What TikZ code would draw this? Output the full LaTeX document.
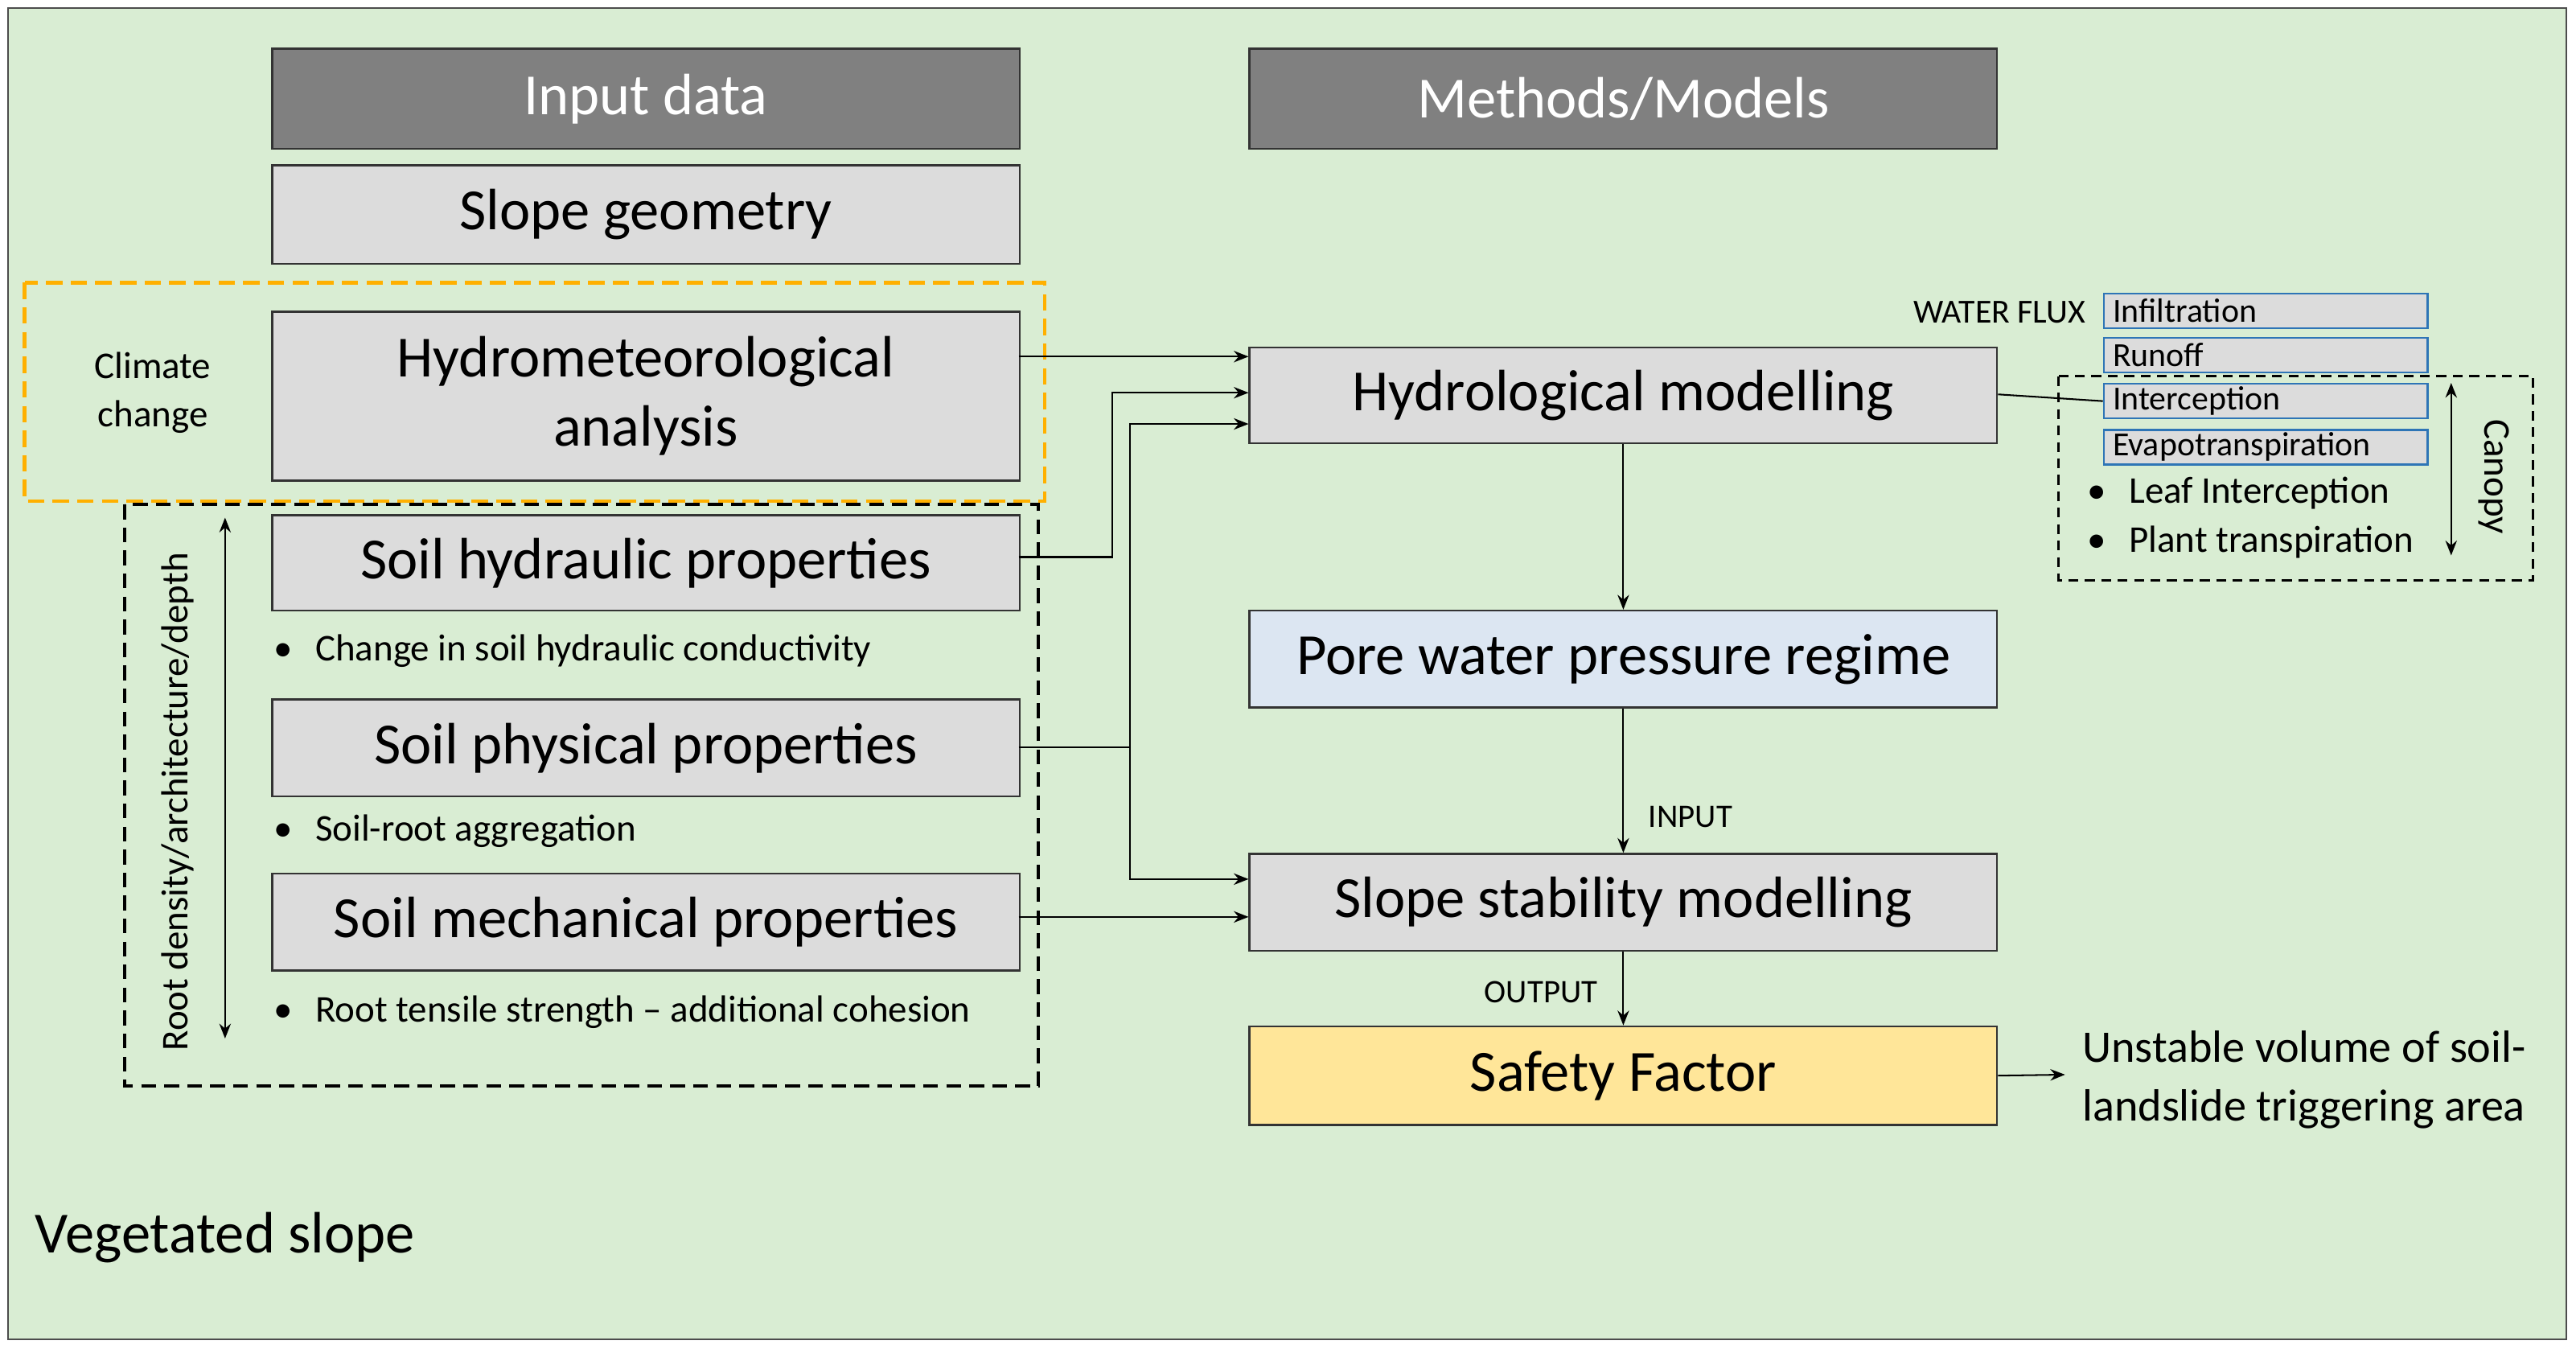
\documentclass[tikz,border=0pt]{standalone}
\usepackage{fontspec}
\setmainfont{Carlito}
\usetikzlibrary{arrows.meta}
\definecolor{bgg}{HTML}{D9EDD3}
\definecolor{hdr}{HTML}{808080}
\definecolor{lg}{HTML}{DCDCDC}
\definecolor{pw}{HTML}{DCE6F2}
\definecolor{sf}{HTML}{FFE699}
\definecolor{orng}{HTML}{FFB000}
\definecolor{bl}{HTML}{2E75B6}
\begin{document}
\begin{tikzpicture}[x=1pt,y=-1pt,
 big/.style={font=\fontsize{35.5}{40}\selectfont},
 sm/.style={font=\fontsize{23}{27}\selectfont},
 box/.style={draw=black!80,line width=1.2pt,fill=lg},
 arr/.style={-{Stealth[length=9pt,width=7pt]},line width=1pt},
 wf/.style={draw=bl,line width=1.2pt,fill=lg,anchor=north west,minimum width=197pt,minimum height=21pt,inner sep=0pt}]
\useasboundingbox (0,0) rectangle (1568,823);
\draw[fill=bgg,draw=black!70,line width=1.2pt] (5,5) rectangle (1562,815);
% headers
\node[fill=hdr,draw=black!80,line width=1.2pt,minimum width=455pt,minimum height=61pt,anchor=north west,text=white,big] (in) at (165,29) {Input data};
\node[fill=hdr,draw=black!80,line width=1.2pt,minimum width=455pt,minimum height=61pt,anchor=north west,text=white,big] (mm) at (760,29) {Methods/Models};
\node[box,minimum width=455pt,minimum height=60pt,anchor=north west,big] (sg) at (165,100) {Slope geometry};
\node[box,minimum width=455pt,minimum height=103pt,anchor=north west,big,align=center] (hm) at (165,189) {Hydrometeorological\\[2pt]analysis};
\draw[orng,dashed,line width=2.2pt,dash pattern=on 10pt off 5pt] (15,172) rectangle (636,305);
\node[sm,align=center] (cc) at (93,239) {Climate\\[2pt]change};
\draw[black,line width=2pt,dash pattern=on 9pt off 5pt] (76,307) rectangle (632,661);
\node[box,minimum width=455pt,minimum height=58pt,anchor=north west,big] (sh) at (165,313) {Soil hydraulic properties};
\node[box,minimum width=455pt,minimum height=59pt,anchor=north west,big] (sp) at (165,425) {Soil physical properties};
\node[box,minimum width=455pt,minimum height=59pt,anchor=north west,big] (sm) at (165,531) {Soil mechanical properties};
\node[sm,anchor=west] (b1) at (163,396) {\textbullet\hspace{14pt}Change in soil hydraulic conductivity};
\node[sm,anchor=west] (b2) at (163,506) {\textbullet\hspace{14pt}Soil-root aggregation};
\node[sm,anchor=west] (b3) at (163,616) {\textbullet\hspace{14pt}Root tensile strength -- additional cohesion};
\coordinate (ra) at (137,315); \coordinate (rb) at (137,632);
\draw[{Stealth[length=9pt,width=7pt]}-{Stealth[length=9pt,width=7pt]},line width=1.2pt] (ra) -- (rb);
\node[sm,rotate=90] (rt) at (108,488) {Root density/architecture/depth};
% methods
\node[box,minimum width=455pt,minimum height=58pt,anchor=north west,big] (hy) at (760,211) {Hydrological modelling};
\node[box,fill=pw,minimum width=455pt,minimum height=59pt,anchor=north west,big] (pw) at (760,371) {Pore water pressure regime};
\node[box,minimum width=455pt,minimum height=59pt,anchor=north west,big] (ss) at (760,519) {Slope stability modelling};
\node[box,fill=sf,minimum width=455pt,minimum height=60pt,anchor=north west,big] (sf) at (760,624) {Safety Factor};
\draw[arr] (620,217) -- (760,217);
\draw[arr] (620,339) -- (677,339) -- (677,239) -- (760,239);
\draw[line width=1pt] (620,455) -- (688,455);
\draw[arr] (688,362) -- (688,258) -- (760,258);
\draw[arr] (688,362) -- (688,535) -- (760,535);
\draw[arr] (620,558) -- (760,558);
\draw[arr] (hy.south) -- (pw.north);
\draw[arr] (pw.south) -- (ss.north);
\draw[arr] (ss.south) -- (sf.north);
\node[font=\fontsize{20}{24}\selectfont,anchor=west] (ip) at (1000,497) {INPUT};
\node[font=\fontsize{20}{24}\selectfont] (op) at (938,604) {OUTPUT};
\coordinate (ue) at (1257,654);
\draw[arr] (sf.east) -- (ue);
\node[font=\fontsize{27.5}{36}\selectfont,anchor=west,align=left] (uv) at (1264,657) {Unstable volume of soil-\\landslide triggering area};
% water flux
\node[font=\fontsize{20.5}{22}\selectfont,anchor=east] (wft) at (1273,190) {WATER FLUX};
\node[wf,font=\fontsize{20.5}{22}\selectfont,text width=190pt,align=left] (w1) at (1280,178) {\hspace{2pt}Infiltration};
\node[wf,font=\fontsize{20.5}{22}\selectfont,text width=190pt,align=left] (w2) at (1280,205) {\hspace{2pt}Runoff};
\node[wf,font=\fontsize{20.5}{22}\selectfont,text width=190pt,align=left] (w3) at (1280,233) {\hspace{2pt}Interception};
\node[wf,font=\fontsize{20.5}{22}\selectfont,text width=190pt,align=left] (w4) at (1280,261) {\hspace{2pt}Evapotranspiration};
\draw[line width=1pt] (hy.east |- 0,240) -- (w3.west);
\draw[line width=1.5pt,dash pattern=on 6pt off 4pt] (1253,229) rectangle (1542,353);
\node[sm,anchor=west] (l1) at (1267,300) {\textbullet\hspace{14pt}Leaf Interception};
\node[sm,anchor=west] (l2) at (1267,330) {\textbullet\hspace{14pt}Plant transpiration};
\coordinate (ca) at (1492,233); \coordinate (cb) at (1492,338);
\draw[{Stealth[length=9pt,width=7pt]}-{Stealth[length=9pt,width=7pt]},line width=1.2pt] (ca) -- (cb);
\node[sm,rotate=-90] (cn) at (1518,290) {Canopy};
\node[font=\fontsize{35.5}{40}\selectfont,anchor=west] (vs) at (18,753) {Vegetated slope};
\end{tikzpicture}
\end{document}
